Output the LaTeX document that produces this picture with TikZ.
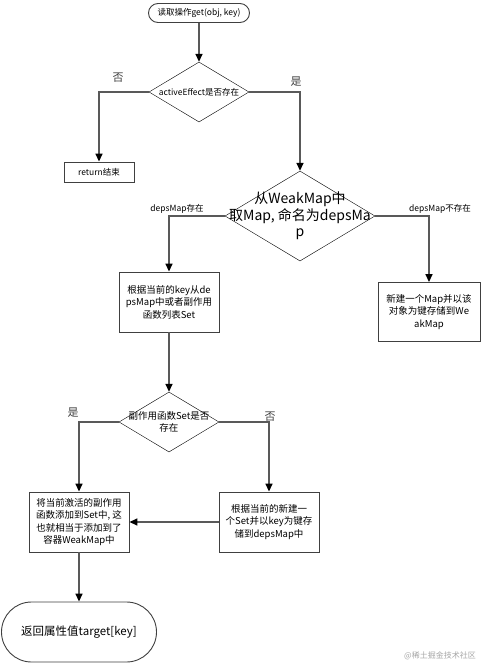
\documentclass[tikz,border=0pt]{standalone}
\usepackage{fontspec}
\setmainfont{Noto Sans CJK SC}
\usetikzlibrary{shapes.geometric,arrows.meta}

\begin{document}
\begin{tikzpicture}[x=1pt, y=-1pt]
    \tikzstyle{terminal}=[
        draw = black!75,
        line width = 0.9pt,
        fill = white,
        rectangle,
        inner sep = 0pt
    ]
    \tikzstyle{process}=[
        draw = black!75,
        line width = 0.9pt,
        fill = white,
        rectangle,
        align = center,
        inner sep = 1pt,
        font = \fontsize{9.5}{12.5}\selectfont
    ]
    \tikzstyle{decision}=[
        draw = black,
        thin,
        fill = white,
        diamond,
        inner sep = 0pt
    ]
    \tikzstyle{flow}=[draw = black!65, line width = 1.5pt, -{Triangle[black, length = 8pt, width = 7pt]}]
    \tikzstyle{branch}=[font = \fontsize{11}{13}\selectfont, text = black!75]
    \tikzstyle{small}=[font = \fontsize{8.5}{10}\selectfont]

    \useasboundingbox (0,0) rectangle (488,665);

	\node[terminal, rounded corners = 9.5pt, minimum width = 101pt, minimum height = 19pt, font = \fontsize{8.5}{10}\selectfont] (start) at (199,13) {读取操作get(obj, key)};
	\node[decision, minimum width = 100pt, minimum height = 60pt,
	      label = {[small]center:activeEffect是否存在}] (effect) at (199,92) {};
	\node[process, minimum width = 70pt, minimum height = 20pt, font = \fontsize{8.5}{10}\selectfont] (ret) at (99,172) {return结束};
	\node[decision, minimum width = 150pt, minimum height = 90pt,
	      label = {[align = center, font = \fontsize{14}{16.5}\selectfont]center:从WeakMap中\\取Map, 命名为depsMa\\p}] (deps) at (300,216) {};
	\node[process, minimum width = 100pt, minimum height = 60pt] (lookup) at (169,302) {根据当前的key从de\\psMap中或者副作用\\函数列表Set};
	\node[process, minimum width = 102pt, minimum height = 59pt] (newmap) at (429,312) {新建一个Map并以该\\对象为键存储到We\\akMap};
	\node[decision, minimum width = 100pt, minimum height = 60pt,
	      label = {[align = center, font = \fontsize{9.5}{12}\selectfont]center:副作用函数Set是否\\存在}] (hasset) at (169,422) {};
	\node[process, minimum width = 100pt, minimum height = 60pt] (addset) at (79,522) {将当前激活的副作用\\函数添加到Set中, 这\\也就相当于添加到了\\容器WeakMap中};
	\node[process, minimum width = 100pt, minimum height = 60pt] (newset) at (269,522) {根据当前的新建一\\个Set并以key为键存\\储到depsMap中};
	\node[terminal, rounded corners = 30pt, minimum width = 155pt, minimum height = 60pt, font = \fontsize{11.5}{13}\selectfont] (result) at (79,632) {返回属性值target[key]};

	% branch labels
	\node[branch] (no1)  at (118,78)  {否};
	\node[branch] (yes1) at (296,82)  {是};
	\node[small]  (has)  at (177,209) {depsMap存在};
	\node[small]  (hasnot) at (440,209) {depsMap不存在};
	\node[branch] (yes2) at (73,413)  {是};
	\node[branch] (no2)  at (270,417) {否};
	\node[font = \fontsize{8}{9}\selectfont, text = black!35] (mark) at (440,656) {@稀土掘金技术社区};

	\draw[flow] (start) -- (effect);
	\draw[flow] (effect.west) -| (ret.north);
	\draw[flow] (effect.east) -| (deps.north);
	\draw[flow] (deps.west) -| (lookup.north);
	\draw[flow] (deps.east) -| (newmap.north);
	\draw[flow] (lookup) -- (hasset);
	\draw[flow] (hasset.west) -| (addset.north);
	\draw[flow] (hasset.east) -| (newset.north);
	\draw[flow] (newset) -- (addset);
	\draw[flow] (addset) -- (result);

\end{tikzpicture}
\end{document}
